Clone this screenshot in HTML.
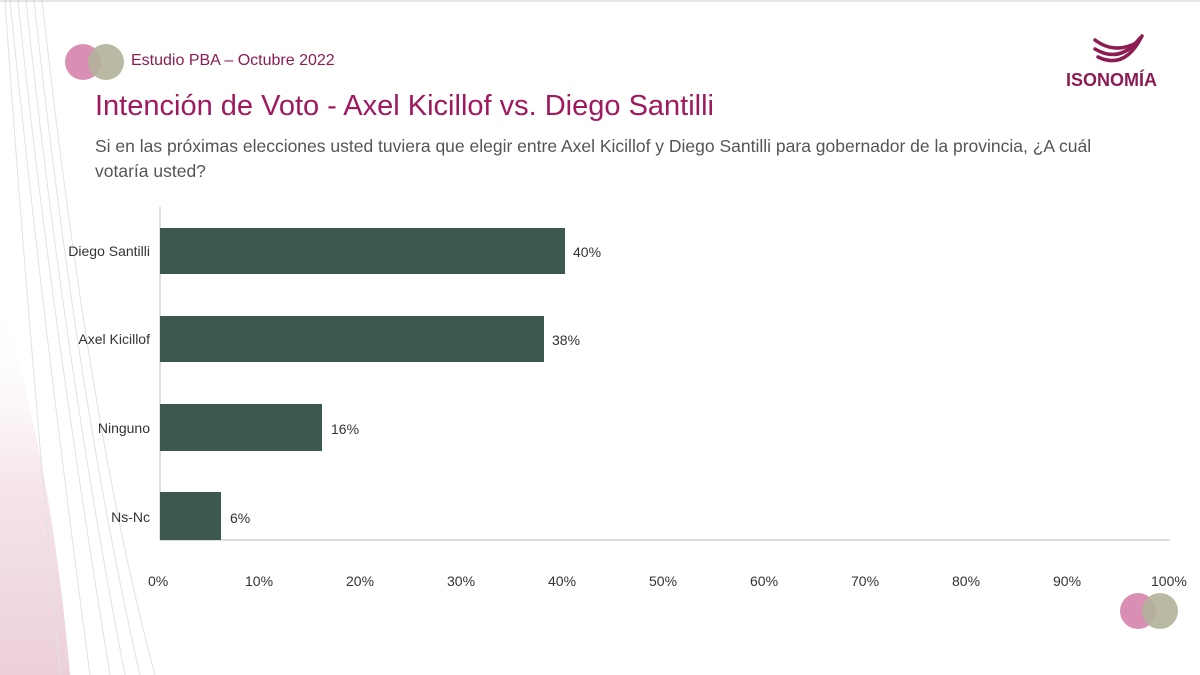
<!DOCTYPE html>
<html><head><meta charset="utf-8"><style>
body{margin:0;width:1200px;height:675px;background:#fff;position:relative;overflow:hidden;font-family:"Liberation Sans","DejaVu Sans",sans-serif}
.t{position:absolute;white-space:nowrap}
</style></head><body>
<svg width="1200" height="675" style="position:absolute;left:0;top:0">
<defs><linearGradient id="g" x1="0" y1="0" x2="0" y2="1"><stop offset="0" stop-color="#fff" stop-opacity="0"/><stop offset="0.5" stop-color="#f5e4ea"/><stop offset="1" stop-color="#ecd0d9"/></linearGradient></defs>
<path d="M0,300 C40,420 60,560 70,675 L0,675Z" fill="url(#g)"/>
<g fill="none" stroke="#e2e2e2" stroke-width="1">
<path d="M10,0 C30,200 60,450 90,675"/><path d="M18,0 C40,220 75,460 110,675"/><path d="M26,0 C50,230 85,470 125,675"/><path d="M34,0 C60,240 95,480 140,675"/><path d="M5,0 C20,220 40,450 60,675"/><path d="M42,0 C70,250 105,490 155,675"/>
</g>
<line x1="0" y1="1" x2="1200" y2="1" stroke="#ccc"/>
<circle cx="83" cy="62" r="18" fill="#d98fb3"/><circle cx="106" cy="62" r="18" fill="#b2b39a" opacity="0.9"/>
<circle cx="1138" cy="611" r="18" fill="#d98fb3"/><circle cx="1160" cy="611" r="18" fill="#b2b39a" opacity="0.9"/>
<g fill="none" stroke="#8c1c52" stroke-width="3.5" stroke-linecap="round">
<path d="M1095,40 Q1115,55 1138,42"/><path d="M1095,49 Q1120,64 1140,38"/><path d="M1098,57 Q1125,70 1142,36"/>
</g>
<line x1="160" y1="207" x2="160" y2="540" stroke="#bbb"/>
<line x1="160" y1="540" x2="1170" y2="540" stroke="#bbb"/>
<g fill="#3d5850">
<rect x="160" y="228" width="405" height="46"/>
<rect x="160" y="316" width="384" height="46"/>
<rect x="160" y="404" width="162" height="47"/>
<rect x="160" y="492" width="61" height="48"/>
</g>
</svg>
<div class="t" style="left:131px;top:52px;font-size:16px;color:#8c1c52">Estudio PBA – Octubre 2022</div>
<div class="t" style="left:1066px;top:70px;font-size:18px;color:#8c1c52;font-weight:bold">ISONOMÍA</div>
<div class="t" style="left:95px;top:90px;font-size:29px;color:#a0195f">Intención de Voto - Axel Kicillof vs. Diego Santilli</div>
<div class="t" style="left:95px;top:134px;font-size:17.5px;color:#555;line-height:25px;white-space:normal;width:1010px">Si en las próximas elecciones usted tuviera que elegir entre Axel Kicillof y Diego Santilli para gobernador de la provincia, ¿A cuál votaría usted?</div>
<div style="font-size:14px;color:#333">
<div class="t" style="right:1050px;top:243px">Diego Santilli</div>
<div class="t" style="right:1050px;top:331px">Axel Kicillof</div>
<div class="t" style="right:1050px;top:420px">Ninguno</div>
<div class="t" style="right:1050px;top:509px">Ns-Nc</div>
<div class="t" style="left:573px;top:244px">40%</div>
<div class="t" style="left:552px;top:332px">38%</div>
<div class="t" style="left:331px;top:421px">16%</div>
<div class="t" style="left:230px;top:510px">6%</div>
</div>
<div style="font-size:14px;color:#333">
<div class="t" style="left:148px;top:573px">0%</div>
<div class="t" style="left:245px;top:573px">10%</div>
<div class="t" style="left:346px;top:573px">20%</div>
<div class="t" style="left:447px;top:573px">30%</div>
<div class="t" style="left:548px;top:573px">40%</div>
<div class="t" style="left:649px;top:573px">50%</div>
<div class="t" style="left:750px;top:573px">60%</div>
<div class="t" style="left:851px;top:573px">70%</div>
<div class="t" style="left:952px;top:573px">80%</div>
<div class="t" style="left:1053px;top:573px">90%</div>
<div class="t" style="left:1151px;top:573px">100%</div>
</div>
</body></html>
